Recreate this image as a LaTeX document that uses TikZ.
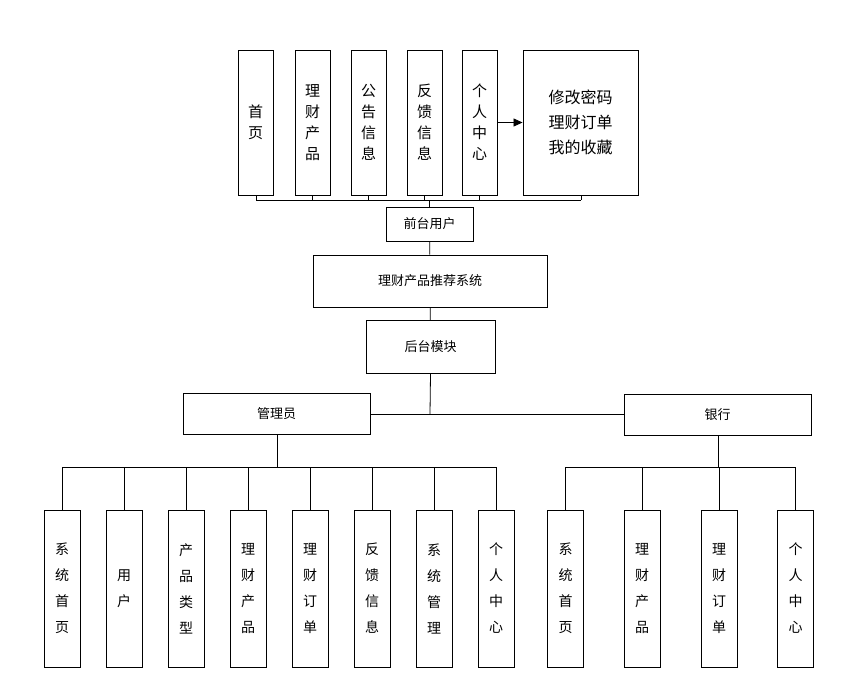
\documentclass[tikz,border=0pt]{standalone}
\usepackage{fontspec}
\setmainfont{Noto Sans CJK SC}
\usetikzlibrary{arrows.meta}
\begin{document}
\begin{tikzpicture}[x=1pt,y=-1pt,
  bx/.style={draw,line width=0.9pt,inner sep=0pt},
  ln/.style={line width=0.8pt},
  tall/.style={bx,minimum width=35pt,minimum height=145pt,font=\fontsize{15}{21}\selectfont,align=center},
  low/.style={bx,minimum width=36pt,minimum height=157pt,font=\fontsize{14}{26}\selectfont,align=center},
  mid/.style={bx,font=\fontsize{13}{16}\selectfont}]
\useasboundingbox (0,0) rectangle (841,694);
% top
\node[tall] (t1) at (255.5,122.5) {首\\页};
\node[tall] (t2) at (312.5,122.5) {理\\财\\产\\品};
\node[tall] (t3) at (368.5,122.5) {公\\告\\信\\息};
\node[tall] (t4) at (424.5,122.5) {反\\馈\\信\\息};
\node[tall] (t5) at (479.5,122.5) {个\\人\\中\\心};
\node[tall,minimum width=115pt,font=\fontsize{16}{25}\selectfont] (t6) at (580.5,122.5) {修改密码\\理财订单\\我的收藏};
\draw[ln,-{Triangle[length=9pt,width=8pt]}] (t5) -- (t6);
\node[mid,minimum width=87pt,minimum height=34pt] (fu) at (429.5,224) {前台用户};
\coordinate (b0) at (256,200); \coordinate (b1) at (581,200);
\draw[ln] (b0) -- (b1);
\foreach \n/\x in {t1/256,t2/312,t3/368,t4/424,t5/479,t6/581}
  \draw[ln] (\n.south -| \x,0) -- (\x,200);
\draw[ln] (fu.north) -- (fu.north |- b0);
\node[mid,minimum width=234pt,minimum height=52pt] (sys) at (430,281) {理财产品推荐系统};
\node[mid,minimum width=129pt,minimum height=53pt] (bk) at (430.5,347) {后台模块};
\draw[ln] (fu) -- (sys);
\draw[ln] (sys) -- (bk);
\node[mid,minimum width=187pt,minimum height=41pt] (adm) at (276.5,413.5) {管理员};
\node[mid,minimum width=187pt,minimum height=41pt] (bank) at (717.5,414.5) {银行};
\draw[ln] (adm.east |- 0,414) -- (bank.west |- 0,414);
\draw[ln] (bk.south) -- (430,414);
% admin children
\draw[ln] (62,467) -- (497,467);
\draw[ln] (277,434) -- (277,467);
\foreach \n/\x/\t in {a1/62/系\\统\\首\\页, a2/124/用\\户, a3/186/产\\品\\类\\型, a4/248/理\\财\\产\\品, a5/310/理\\财\\订\\单, a6/372/反\\馈\\信\\息, a7/434/系\\统\\管\\理, a8/496/个\\人\\中\\心}{
  \node[low] (\n) at (\x,588.5) {\t};
  \draw[ln] (\n.north) -- (\x,467);
}
% bank children
\draw[ln] (565,467) -- (796,467);
\draw[ln] (718,435) -- (718,467);
\foreach \n/\x/\t in {c1/565.5/系\\统\\首\\页, c2/642/理\\财\\产\\品, c3/719/理\\财\\订\\单, c4/795.5/个\\人\\中\\心}{
  \node[low] (\n) at (\x,588.5) {\t};
  \draw[ln] (\n.north) -- (\x,467);
}
\end{tikzpicture}
\end{document}
